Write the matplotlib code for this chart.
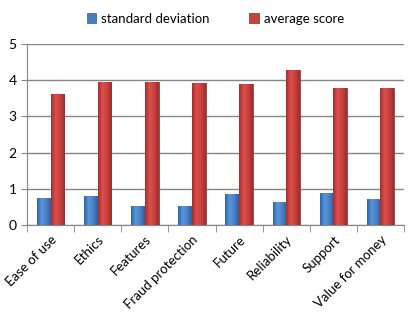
import matplotlib.pyplot as plt
import numpy as np
from matplotlib.colors import LinearSegmentedColormap

categories = ['Ease of use', 'Ethics', 'Features', 'Fraud protection',
              'Future', 'Reliability', 'Support', 'Value for money']
std_dev = [0.75, 0.80, 0.53, 0.53, 0.86, 0.64, 0.89, 0.72]
avg_score = [3.63, 3.96, 3.96, 3.93, 3.90, 4.29, 3.79, 3.79]

plt.rcParams['font.family'] = ['Lato', 'DejaVu Sans']

fig = plt.figure(figsize=(4.11, 3.22), dpi=100)
ax = fig.add_axes([0.066, 0.301, 0.917, 0.562])

x = np.arange(len(categories))
w = 0.29
b1 = ax.bar(x - w / 2, std_dev, w, color='#4a7ebb', edgecolor='#2f5f96',
            linewidth=0.5, label='standard deviation', zorder=3)
b2 = ax.bar(x + w / 2, avg_score, w, color='#c9413f', edgecolor='#8e2a28',
            linewidth=0.5, label='average score', zorder=3)

# shaded look for the bars
grad = np.linspace(0, 1, 64).reshape(1, -1)
cm_blue = LinearSegmentedColormap.from_list('b', ['#2e64a8', '#5a96da', '#4a82c4', '#2f5f9e'])
cm_red = LinearSegmentedColormap.from_list('r', ['#a52f2d', '#de4f4c', '#c8403e', '#96302e'])
for bars, cm in [(b1, cm_blue), (b2, cm_red)]:
    for p in bars:
        x0, y0 = p.get_x(), p.get_y()
        im = ax.imshow(grad, cmap=cm, aspect='auto', zorder=3.5,
                       extent=[x0, x0 + p.get_width(), y0, y0 + p.get_height()])
        im.set_clip_path(p)

ax.set_ylim(0, 5)
ax.set_xlim(-0.5, len(categories) - 0.5)
ax.set_yticks(range(6))
ax.yaxis.grid(True, color='#868686', linewidth=1)
ax.set_axisbelow(True)
for s in ['top', 'right']:
    ax.spines[s].set_visible(False)
for s in ['left', 'bottom']:
    ax.spines[s].set_color('#868686')
ax.tick_params(axis='y', colors='#868686', labelcolor='black', length=4,
               labelsize=10)

ax.set_xticks(x)
ax.set_xticklabels(categories, rotation=45, ha='right', rotation_mode='anchor',
                   fontsize=9.5)
ax.tick_params(axis='x', length=0, pad=6)
ax.set_xticks(np.arange(-0.5, len(categories)), minor=True)
ax.tick_params(axis='x', which='minor', length=5, colors='#868686')

ax.legend(loc='upper center', bbox_to_anchor=(0.5, 1.24), ncol=2, frameon=False,
          fontsize=9.5, handlelength=0.7, handleheight=0.7, columnspacing=3,
          handletextpad=0.4)

fig.savefig('out.png')
